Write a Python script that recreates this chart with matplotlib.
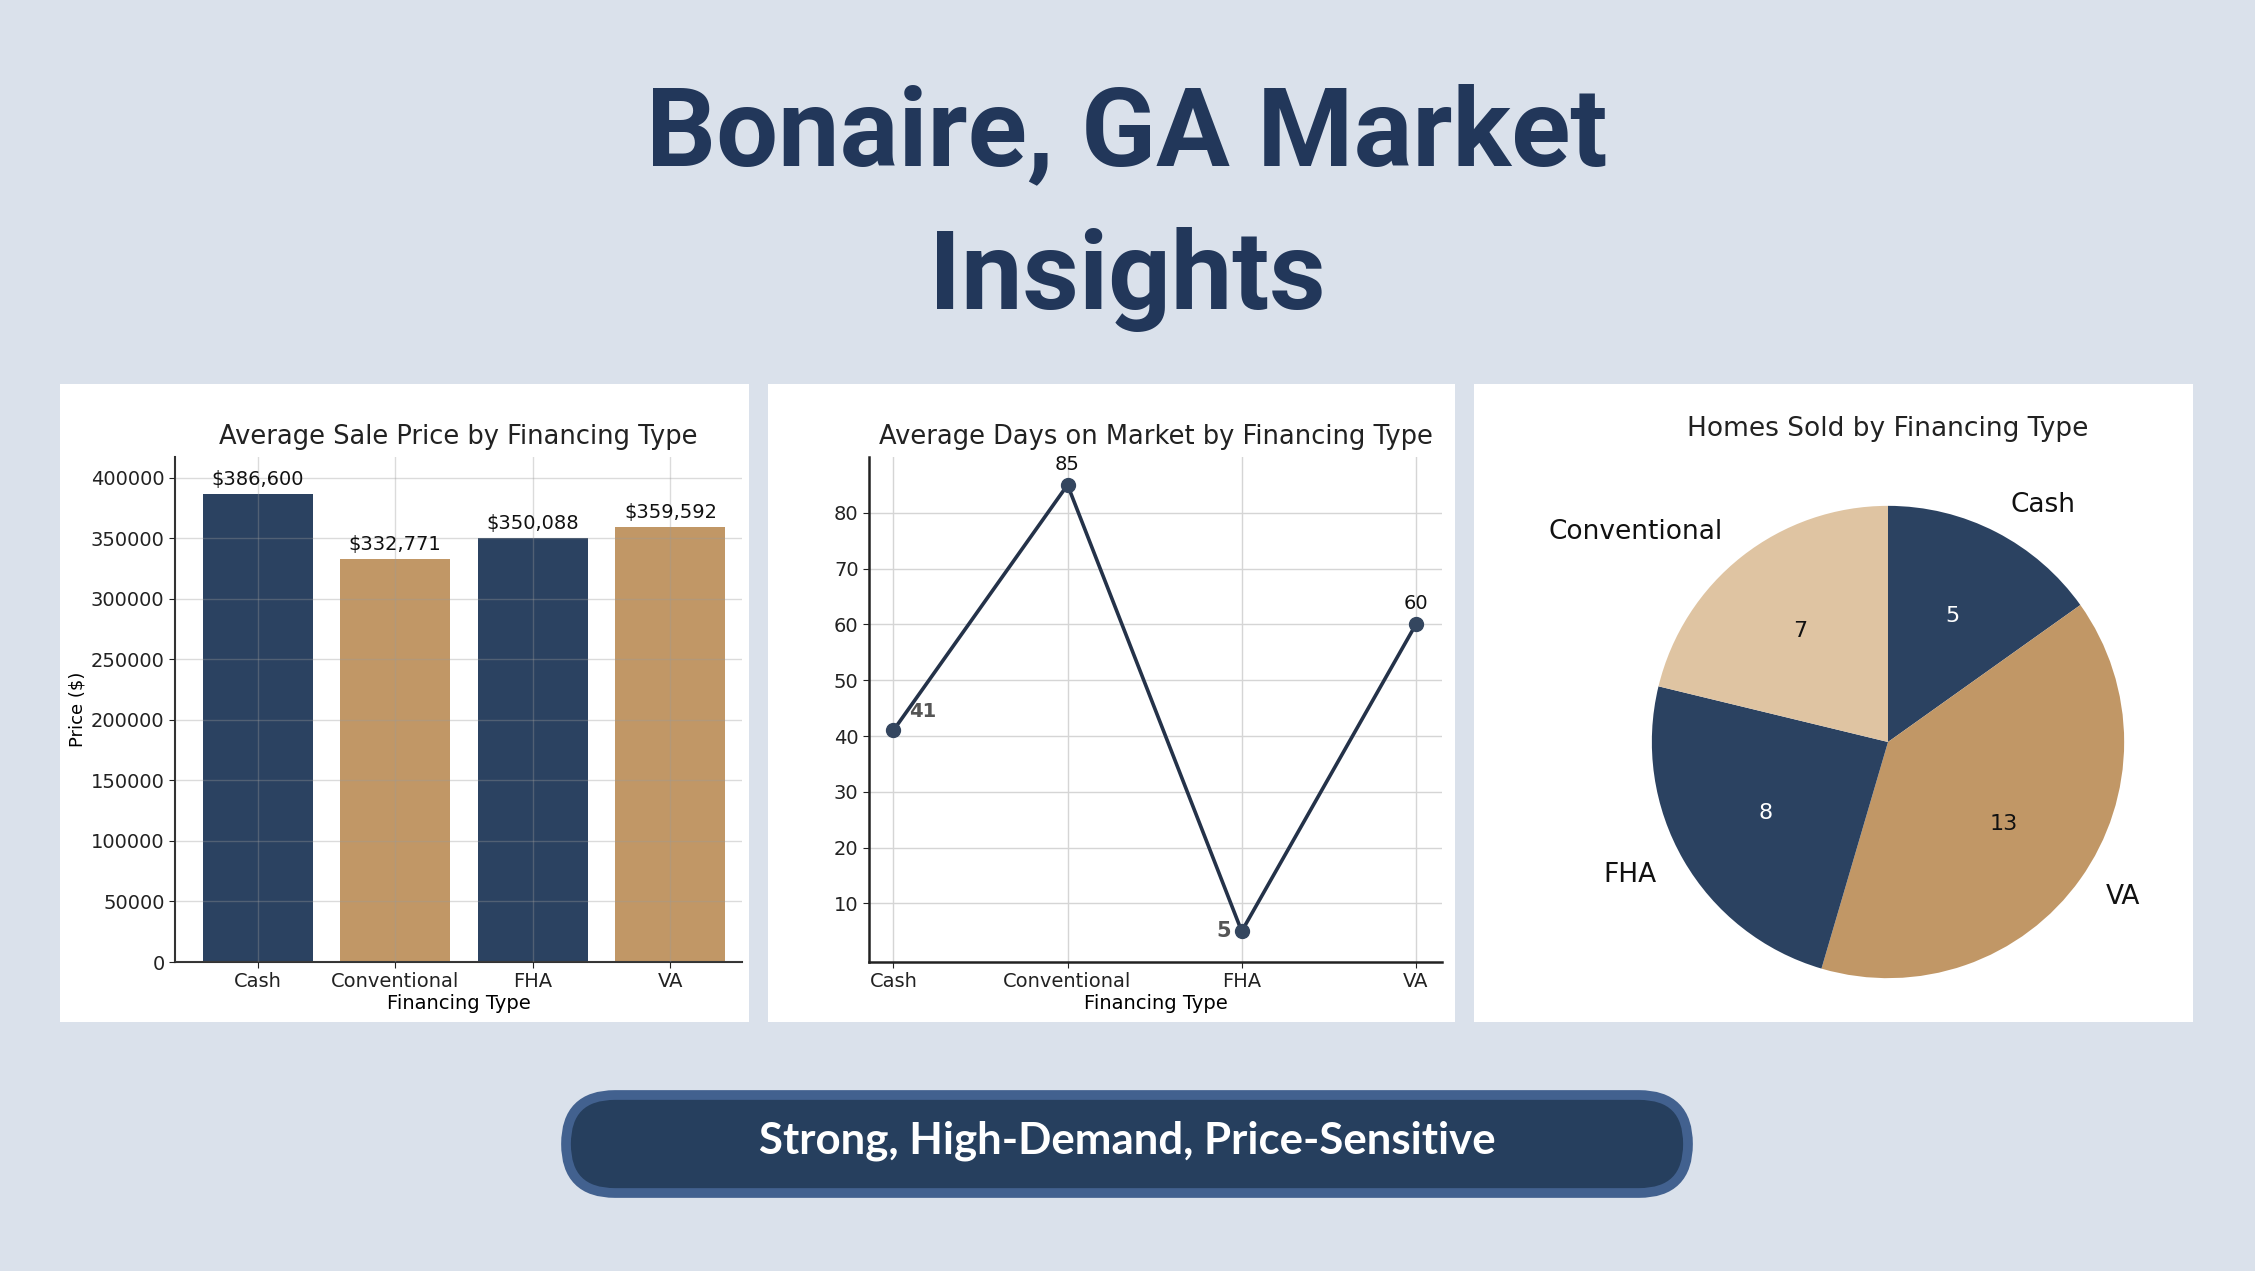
import matplotlib
matplotlib.use("Agg")
import matplotlib.pyplot as plt
from matplotlib.patches import Rectangle, FancyBboxPatch

# data
fin_types = ["Cash", "Conventional", "FHA", "VA"]
avg_price = [386600, 332771, 350088, 359592]
avg_days = [41, 85, 5, 60]
pie_labels = ["Cash", "VA", "FHA", "Conventional"]
homes_sold = [5, 13, 8, 7]

title_lines = ["Bonaire, GA Market", "Insights"]
tagline = "Strong, High-Demand, Price-Sensitive"

NAVY = "#2b4261"
TAN = "#c19766"
LIGHT_TAN = "#dfc4a2"
BG = "#dae1eb"
TITLE_C = "#22375a"

W, H = 2255, 1271
fig = plt.figure(figsize=(W / 100, H / 100), dpi=100)
fig.patch.set_facecolor(BG)

# background layer in pixel coords
bg = fig.add_axes([0, 0, 1, 1], zorder=0)
bg.set_xlim(0, W)
bg.set_ylim(H, 0)
bg.axis("off")

for x0, x1 in [(60, 749), (768, 1455), (1474, 2193)]:
    bg.add_patch(Rectangle((x0, 384), x1 - x0, 638, facecolor="white", edgecolor="none"))

bg.add_patch(FancyBboxPatch((566, 1095), 1122, 98,
                            boxstyle="round,pad=0,rounding_size=49",
                            facecolor="#263f5e", edgecolor="#42618f", linewidth=7))
bg.text(1127, 1141, tagline, color="white", fontsize=31.5, fontweight="bold",
        family="Lato", ha="center", va="center")

bg.text(1127, 165, title_lines[0], color=TITLE_C, fontsize=79, fontweight="bold",
        family="Roboto", ha="center", va="baseline")
bg.text(1127, 309, title_lines[1], color=TITLE_C, fontsize=79, fontweight="bold",
        family="Roboto", ha="center", va="baseline")

# bar chart
ax1 = fig.add_axes([175 / W, 1 - 962 / H, (742 - 175) / W, (962 - 457) / H], zorder=1)
ax1.set_facecolor("white")
x = range(len(fin_types))
ax1.bar(x, avg_price, width=0.8, color=[NAVY, TAN, NAVY, TAN], zorder=1)
for i, v in enumerate(avg_price):
    ax1.text(i, v + 4000, f"${v:,}", ha="center", va="bottom", fontsize=14, color="#111111", zorder=3)
ax1.set_xlim(-0.6, 3.52)
ax1.set_ylim(0, 417000)
ax1.set_yticks(range(0, 400001, 50000))
ax1.set_xticks(list(x))
ax1.set_xticklabels(fin_types)
ax1.grid(True, color="#9a9a9a", alpha=0.35, linewidth=1, zorder=2)
ax1.set_axisbelow(False)
ax1.tick_params(labelsize=14, colors="#222222", length=4)
ax1.set_xlabel("Financing Type", fontsize=14, labelpad=2)
ax1.set_ylabel("Price ($)", fontsize=13, labelpad=3)
ax1.set_title("Average Sale Price by Financing Type", fontsize=18.5, pad=9, color="#222222")
for s in ["top", "right"]:
    ax1.spines[s].set_visible(False)
for s in ["left", "bottom"]:
    ax1.spines[s].set_color("#333333")
    ax1.spines[s].set_linewidth(1.5)

# line chart
ax2 = fig.add_axes([869 / W, 1 - 962 / H, (1442 - 869) / W, (962 - 457) / H], zorder=1)
ax2.set_facecolor("white")
ax2.plot(list(x), avg_days, color="#243249", linewidth=2.6, marker="o", markersize=10,
         markerfacecolor="#34465f", markeredgecolor="#34465f", zorder=3)
ax2.annotate(str(avg_days[0]), (0, avg_days[0]), xytext=(11, 7), textcoords="offset points",
             fontsize=14, fontweight="bold", color="#555555", ha="left", va="bottom")
ax2.annotate(str(avg_days[1]), (1, avg_days[1]), xytext=(0, 8), textcoords="offset points",
             fontsize=14, color="#111111", ha="center", va="bottom")
ax2.annotate(str(avg_days[2]), (2, avg_days[2]), xytext=(-8, 0), textcoords="offset points",
             fontsize=15, fontweight="bold", color="#555555", ha="right", va="center")
ax2.annotate(str(avg_days[3]), (3, avg_days[3]), xytext=(0, 8), textcoords="offset points",
             fontsize=14, color="#111111", ha="center", va="bottom")
ax2.set_xlim(-0.14, 3.15)
ax2.set_ylim(-0.5, 90)
ax2.set_yticks(range(10, 81, 10))
ax2.set_xticks(list(x))
ax2.set_xticklabels(fin_types)
ax2.grid(True, color="#d5d5d5", linewidth=1, zorder=0)
ax2.tick_params(labelsize=14, colors="#222222", length=4)
ax2.set_xlabel("Financing Type", fontsize=14, labelpad=2)
ax2.set_title("Average Days on Market by Financing Type", fontsize=18.5, pad=9, color="#222222")
for s in ["top", "right"]:
    ax2.spines[s].set_visible(False)
for s in ["left", "bottom"]:
    ax2.spines[s].set_color("#222222")
    ax2.spines[s].set_linewidth(1.8)

# pie chart
ax3 = fig.add_axes([1581 / W, 1 - 1049 / H, 614 / W, 614 / H], zorder=1)
wedges, texts, autotexts = ax3.pie(
    homes_sold, labels=pie_labels, colors=[NAVY, TAN, NAVY, LIGHT_TAN],
    startangle=90, counterclock=False, labeldistance=1.13, pctdistance=0.6,
    autopct=lambda p: f"{round(p * sum(homes_sold) / 100):d}",
    textprops={"fontsize": 19, "color": "#111111"})
for t, c in zip(autotexts, ["white", "#111111", "white", "#111111"]):
    t.set_color(c)
    t.set_fontsize(16)
ax3.set_xlim(-1.3, 1.3)
ax3.set_ylim(-1.3, 1.3)
bg.text(1888, 429, "Homes Sold by Financing Type", fontsize=19, color="#222222",
        ha="center", va="center")

fig.savefig("out.png", dpi=100, facecolor=BG)
